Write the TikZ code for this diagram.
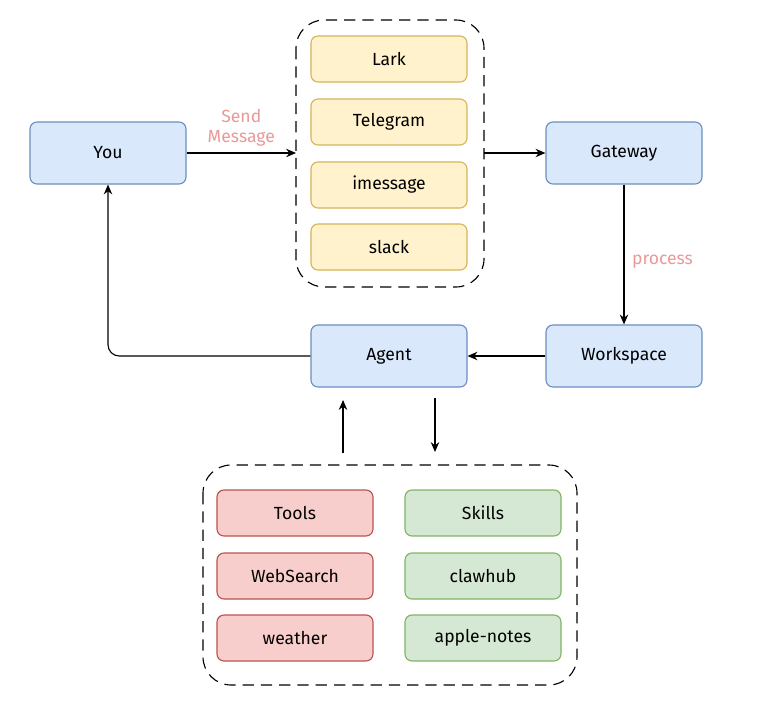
\documentclass[tikz,border=0pt]{standalone}
\usepackage{fontspec}
\setmainfont{Fira Sans}
\usetikzlibrary{arrows.meta, positioning}
\definecolor{bluef}{HTML}{DAE8FC}\definecolor{blued}{HTML}{6C8EBF}
\definecolor{yelf}{HTML}{FFF2CC}\definecolor{yeld}{HTML}{D6B656}
\definecolor{redf}{HTML}{F8CECC}\definecolor{redd}{HTML}{B85450}
\definecolor{grnf}{HTML}{D5E8D4}\definecolor{grnd}{HTML}{82B366}
\definecolor{pinktxt}{HTML}{EA9999}
\begin{document}
\begin{tikzpicture}[
      x=0.025cm, y=-0.025cm,
      every node/.style={font=\fontsize{12.5}{14}\selectfont},
      big/.style={draw=blued, fill=bluef, rounded corners=5pt, minimum width=3.9cm, minimum height=1.55cm, thick},
      chan/.style={draw=yeld, fill=yelf, rounded corners=5pt, minimum width=3.9cm, minimum height=1.15cm, thick},
      tool/.style={draw=redd, fill=redf, rounded corners=5pt, minimum width=3.9cm, minimum height=1.15cm, thick},
      skill/.style={draw=grnd, fill=grnf, rounded corners=5pt, minimum width=3.9cm, minimum height=1.15cm, thick},
      group/.style={draw, dashed, dash pattern=on 8pt off 5pt, rounded corners=20pt, thick},
      lbl/.style={text=pinktxt, align=center},
      arr/.style={-{Stealth[length=7pt,width=6pt]}, thick}
    ]
    \useasboundingbox (0,0) rectangle (776,717);
    % Channels
    \draw[group] (296,20) rectangle (484,287);
    \node[chan] (lark) at (389,59) {Lark};
    \node[chan] (telegram) at (389,122) {Telegram};
    \node[chan] (imessage) at (389,185) {imessage};
    \node[chan] (slack) at (389,247) {slack};
    \coordinate (chanin) at (296,153);
    \coordinate (chanout) at (484,153);

    % Main nodes
    \node[big] (you) at (108,153) {You};
    \node[big] (gateway) at (624,153) {Gateway};
    \node[big] (workspace) at (624,356) {Workspace};
    \node[big] (agent) at (389,356) {Agent};

    % Tools and skills
    \draw[group] (203,465) rectangle (577,685);
    \node[tool] (tools) at (295,513) {Tools};
    \node[tool] (websearch) at (295,576) {WebSearch};
    \node[tool] (weather) at (295,638) {weather};
    \node[skill] (skills) at (483,513) {Skills};
    \node[skill] (clawhub) at (483,576) {clawhub};
    \node[skill] (notes) at (483,638) {apple-notes};
    \coordinate (upfrom) at (343,453);
    \coordinate (upto) at (343,400);
    \coordinate (downfrom) at (435,398);
    \coordinate (downto) at (435,452);

    % Arrows
    \draw[arr] (you) -- node[lbl, above=1pt] {Send\\Message} (chanin);
    \draw[arr] (chanout) -- (gateway);
    \draw[arr] (gateway) -- node[lbl, right=2pt, pos=0.55] {process} (workspace);
    \draw[arr] (workspace) -- (agent);
    \draw[arr, rounded corners=8pt] (agent.west) -| (you.south);
    \draw[arr] (upfrom) -- (upto);
    \draw[arr] (downfrom) -- (downto);
  \end{tikzpicture}
\end{document}
